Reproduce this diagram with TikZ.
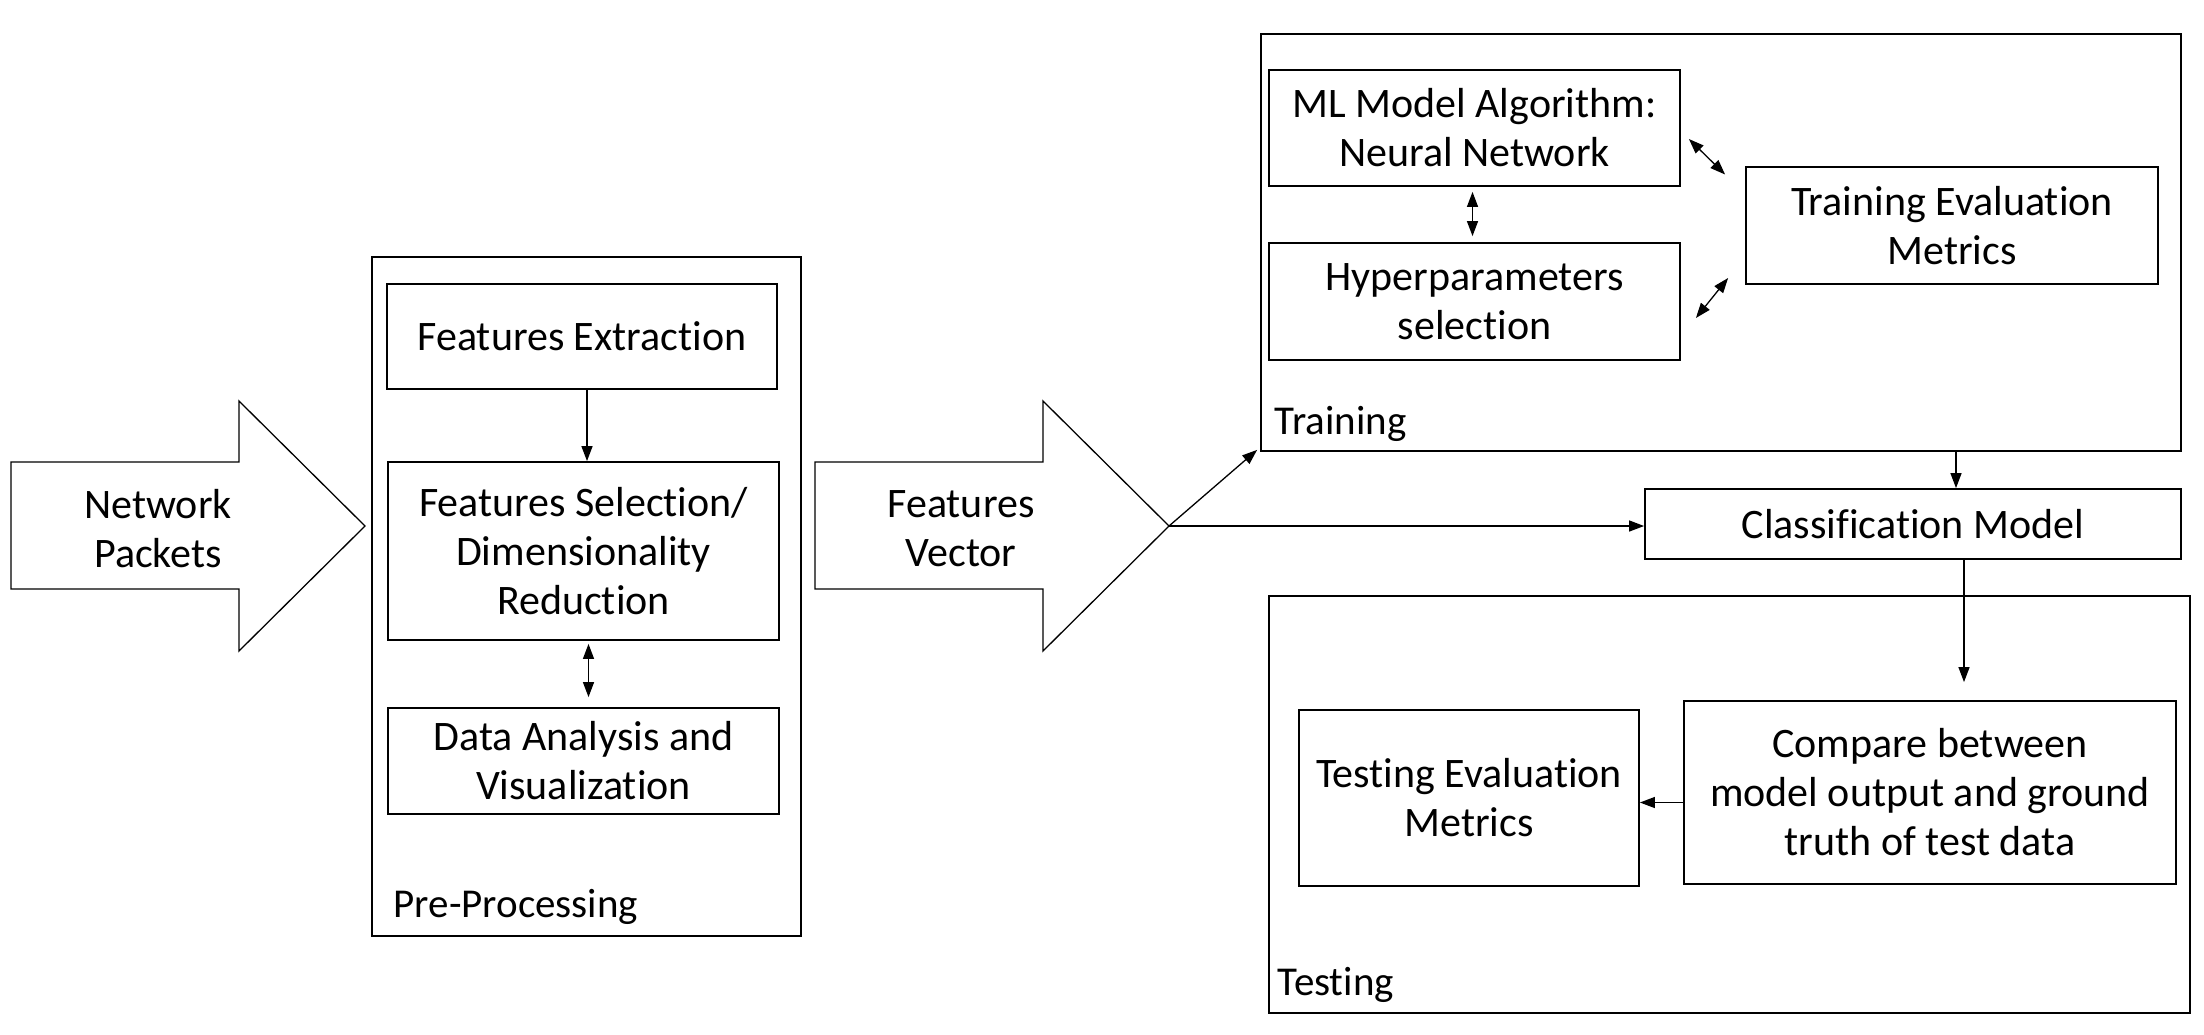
\documentclass[tikz,border=0pt]{standalone}
\usepackage{fontspec}
\setmainfont{Carlito}[RawFeature={-liga}]
\usetikzlibrary{arrows.meta}
\begin{document}
\begin{tikzpicture}[x=1pt,y=-1pt,
  txt/.style={font=\fontsize{42}{49}\selectfont,align=center},
  box/.style={draw,line width=1.8pt,txt,inner sep=0pt},
  frame/.style={draw,line width=1.8pt,inner sep=0pt},
  blk/.style={draw,line width=1.3pt,line join=miter},
  conn/.style={line width=1.3pt,-{Triangle[length=15pt,width=11pt]}},
  dconn/.style={line width=1.3pt,{Triangle[length=15pt,width=11pt]}-{Triangle[length=15pt,width=11pt]}},
  lbl/.style={anchor=base west,font=\fontsize{41}{49}\selectfont}]
\useasboundingbox (0,0) rectangle (2204,1034);

% block arrows
\draw[blk] (11,462) -- (239,462) -- (239,401) -- (365,526) -- (239,651) -- (239,589) -- (11,589) -- cycle;
\coordinate (nptip) at (365,526);
\node[txt] (np) at (158,529) {Network\\Packets};
\draw[blk] (815,462) -- (1043,462) -- (1043,401) -- (1169,526) -- (1043,651) -- (1043,589) -- (815,589) -- cycle;
\coordinate (fvtip) at (1169,526);
\node[txt] (fv) at (961,529) {Features\\Vector};

% pre-processing
\node[frame,minimum width=429pt,minimum height=679pt] (pre) at (586.5,596.5) {};
\node[box,minimum width=390pt,minimum height=105pt] (fe) at (582,336.5) {Features Extraction};
\node[box,minimum width=391pt,minimum height=178pt] (fs) at (583.5,551) {Features Selection/\\Dimensionality\\Reduction};
\node[box,minimum width=391pt,minimum height=106pt] (da) at (583.5,761) {Data Analysis and\\Visualization};
\node[lbl] (prel) at ([xshift=19pt,yshift=19pt]pre.south west) {Pre-Processing};
\draw[conn] ([xshift=5pt]fe.south) -- ([xshift=5pt]fe.south |- fs.north);
\draw[dconn,shorten <=3pt,shorten >=10pt] ([xshift=5pt]fs.south) -- ([xshift=5pt]fs.south |- da.north);

% training
\node[frame,minimum width=920pt,minimum height=417pt] (train) at (1721,242.5) {};
\node[box,minimum width=411pt,minimum height=116pt] (ml) at (1474.5,128) {ML Model Algorithm:\\Neural Network};
\node[box,minimum width=411pt,minimum height=117pt] (hp) at (1474.5,301.5) {Hyperparameters\\selection};
\node[box,minimum width=412pt,minimum height=117pt] (te) at (1952,225.5) {Training Evaluation\\Metrics};
\node[lbl] (trainl) at ([xshift=11pt,yshift=17pt]train.south west) {Training};
\draw[dconn,shorten <=5pt,shorten >=6pt] ([xshift=-2pt]ml.south) -- ([xshift=-2pt]ml.south |- hp.north);
\draw[dconn] ([xshift=8pt,yshift=-11pt]ml.east) -- ([xshift=-20pt,yshift=51pt]te.west);
\draw[dconn] ([xshift=15pt,yshift=-16.5pt]hp.east) -- ([xshift=-17pt,yshift=-52.5pt]te.west);

% classification
\node[box,minimum width=536pt,minimum height=70pt] (cm) at (1913,524) {Classification Model};
\draw[conn] ([xshift=43pt]cm.north |- train.south) -- ([xshift=43pt]cm.north);
\draw[conn] (fvtip) -- (fvtip -| cm.west);
\draw[conn] (fvtip) -- ([xshift=-3pt,yshift=2pt]train.south west);

% testing
\node[frame,minimum width=921pt,minimum height=417pt] (test) at (1729.5,804.5) {};
\node[box,minimum width=492pt,minimum height=183pt] (cmp) at (1930,792.5) {Compare between\\model output and ground\\truth of test data};
\node[box,minimum width=340pt,minimum height=176pt] (tee) at (1469,798) {Testing Evaluation\\Metrics};
\node[lbl] (testl) at ([xshift=6pt,yshift=18pt]test.south west) {Testing};
\draw[conn,shorten >=18pt] ([xshift=51pt]cm.south) -- ([xshift=51pt]cm.south |- cmp.north);
\draw[conn] ([yshift=-10pt]cmp.west) -- ([yshift=-10pt]cmp.west -| tee.east);
\end{tikzpicture}
\end{document}
